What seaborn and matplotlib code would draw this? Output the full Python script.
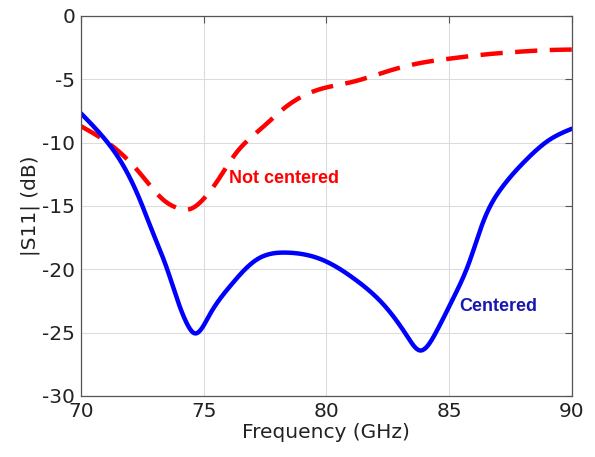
import numpy as np
import pandas as pd
import matplotlib
matplotlib.use("Agg")
import matplotlib.pyplot as plt
import seaborn as sns

# Centered curve
freq_c = [70.0, 70.77, 71.59, 72.4, 72.94, 73.48, 74.02, 74.35, 74.63, 75.24,
          76.06, 77.14, 78.36, 79.85, 81.2, 82.43, 83.3, 83.8, 84.46, 85.14,
          85.81, 86.4, 87.17, 88.12, 89.07, 90.0]
s11_c = [-7.68, -9.26, -11.37, -14.5, -17.15, -19.8, -22.9, -24.4, -25.05, -23.6,
         -21.37, -19.26, -18.68, -19.26, -20.84, -23.0, -25.3, -26.4, -25.0, -22.4,
         -19.5, -16.2, -13.5, -11.4, -9.8, -8.9]

# Not centered curve
freq_n = [70.0, 71.3, 72.4, 73.35, 74.0, 74.43, 74.97, 75.5, 76.33, 77.28, 78.36,
          79.72, 81.07, 82.43, 83.78, 85.13, 86.5, 87.85, 89.2, 90.0]
s11_n = [-8.7, -10.3, -12.4, -14.5, -15.2, -15.25, -14.5, -13.2, -10.8, -9.0, -7.16,
         -5.79, -5.2, -4.4, -3.73, -3.34, -3.03, -2.82, -2.68, -2.65]

x_ticks = [70, 75, 80, 85, 90]
y_ticks = [-30, -25, -20, -15, -10, -5, 0]

sns.set_theme(style="white")
plt.rcParams['font.family'] = ['DejaVu Sans']
plt.rcParams['axes.unicode_minus'] = False

fig = plt.figure(figsize=(5.95, 4.57), dpi=100)
ax = fig.add_axes([0.136, 0.1335, 0.825, 0.8315])


def smooth(x, y, n=600):
    # natural cubic spline through the read points
    x = np.asarray(x, float); y = np.asarray(y, float)
    N = len(x); h = np.diff(x)
    A = np.zeros((N, N)); r = np.zeros(N)
    A[0, 0] = A[-1, -1] = 1.0
    for i in range(1, N - 1):
        A[i, i-1] = h[i-1]; A[i, i] = 2*(h[i-1] + h[i]); A[i, i+1] = h[i]
        r[i] = 6*((y[i+1]-y[i])/h[i] - (y[i]-y[i-1])/h[i-1])
    M = np.linalg.solve(A, r)
    xs = np.linspace(x[0], x[-1], n)
    k = np.clip(np.searchsorted(x, xs) - 1, 0, N - 2)
    a = x[k+1] - xs; b = xs - x[k]; hk = h[k]
    ys = (M[k]*a**3 + M[k+1]*b**3)/(6*hk) + (y[k]/hk - M[k]*hk/6)*a + (y[k+1]/hk - M[k+1]*hk/6)*b
    return xs, ys


xc, yc = smooth(freq_c, s11_c)
xn, yn = smooth(freq_n, s11_n)
dfc = pd.DataFrame({"f": xc, "s": yc})
dfn = pd.DataFrame({"f": xn, "s": yn})

sns.lineplot(data=dfn, x="f", y="s", ax=ax, color="#ff0000", lw=3.2,
             estimator=None, sort=False)
ax.lines[-1].set_dashes([5, 2.8])
sns.lineplot(data=dfc, x="f", y="s", ax=ax, color="#0000ff", lw=3.2,
             estimator=None, sort=False)

ax.set_xlim(70, 90)
ax.set_ylim(-30, 0)
ax.set_xticks(x_ticks)
ax.set_yticks(y_ticks)
ax.grid(True, color="#dcdcdc", lw=0.8)
ax.set_axisbelow(True)
for sp in ax.spines.values():
    sp.set_color("#555555")
    sp.set_linewidth(0.9)
ax.tick_params(direction="in", length=5, width=0.8, color="#555555",
               top=True, right=True, labelsize=14.5, labelcolor="#222222", pad=4)
ax.set_xlabel("Frequency (GHz)", fontsize=14.5, color="#222222", labelpad=2)
ax.set_ylabel("|S11| (dB)", fontsize=14.5, color="#222222", labelpad=2)

ax.text(76.05, -12.8, "Not centered", color="#ff0000", fontsize=13,
        fontweight="bold", va="center", ha="left", family=["Liberation Sans", "DejaVu Sans"])
ax.text(85.4, -22.9, "Centered", color="#1818b0", fontsize=13,
        fontweight="bold", va="center", ha="left", family=["Liberation Sans", "DejaVu Sans"])

fig.savefig("out.png", dpi=100)
